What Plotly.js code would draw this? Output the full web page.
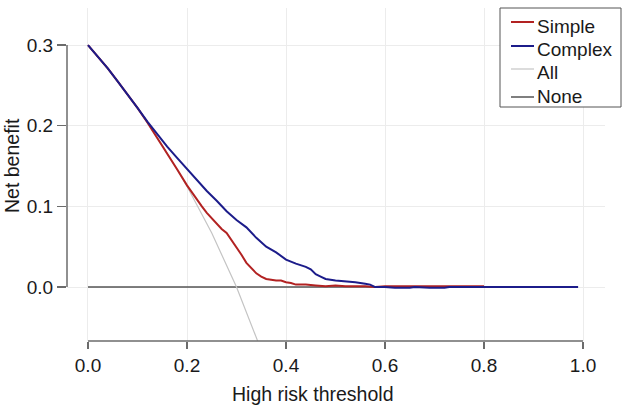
<!DOCTYPE html>
<html>
<head>
<meta charset="utf-8">
<script src="https://cdn.plot.ly/plotly-3.0.1.min.js"></script>
<style>html,body{margin:0;padding:0;background:#fff;}#chart{width:626px;height:410px;}</style>
</head>
<body>
<div id="chart"></div>
<script>
// Thresholds and net benefit values
var simpleX = [0.00,0.02,0.04,0.06,0.08,0.10,0.12,0.14,0.16,0.18,0.20,0.21,0.22,0.23,0.24,0.25,0.26,0.27,0.28,0.29,0.30,0.31,0.32,0.33,0.34,0.35,0.36,0.37,0.38,0.39,0.40,0.41,0.42,0.43,0.44,0.46,0.48,0.50,0.52,0.54,0.56,0.58,0.60,0.62,0.66,0.70,0.74,0.78,0.80];
var simpleY = [0.300,0.286,0.271,0.255,0.239,0.222,0.204,0.185,0.166,0.146,0.126,0.117,0.109,0.100,0.092,0.085,0.078,0.072,0.067,0.058,0.050,0.040,0.030,0.023,0.017,0.013,0.010,0.009,0.008,0.008,0.006,0.005,0.003,0.003,0.003,0.002,0.001,0.002,0.001,0.001,0.001,0.000,0.001,0.001,0.001,0.001,0.001,0.001,0.001];

var complexX = [0.00,0.02,0.04,0.06,0.08,0.10,0.12,0.14,0.16,0.18,0.20,0.22,0.24,0.26,0.28,0.30,0.32,0.34,0.36,0.38,0.40,0.42,0.44,0.45,0.46,0.47,0.48,0.50,0.52,0.54,0.56,0.57,0.58,0.60,0.62,0.65,0.66,0.69,0.72,0.73,0.80,0.90,0.99];
var complexY = [0.300,0.286,0.271,0.255,0.239,0.222,0.205,0.189,0.174,0.160,0.146,0.133,0.119,0.107,0.094,0.083,0.074,0.061,0.050,0.043,0.034,0.029,0.025,0.022,0.016,0.013,0.010,0.008,0.007,0.006,0.004,0.003,0.000,0.000,-0.001,-0.001,0.000,-0.001,-0.001,0.000,0.000,0.000,0.000];

var allX = [0.00,0.05,0.10,0.15,0.20,0.25,0.30,0.34,0.36];
var allY = [0.300,0.263,0.222,0.176,0.125,0.067,0.000,-0.061,-0.094];

var noneX = [0.00,0.99];
var noneY = [0.0,0.0];

var seriesNames = ["Simple","Complex","All","None"];
var seriesColors = ["#b22222","#1c1c8a","#c4c4c4","#555555"];
var xTicks = [0.0,0.2,0.4,0.6,0.8,1.0];
var xTickLabels = ["0.0","0.2","0.4","0.6","0.8","1.0"];
var yTicks = [0.0,0.1,0.2,0.3];
var yTickLabels = ["0.0","0.1","0.2","0.3"];
var xTitle = "High risk threshold";
var yTitle = "Net benefit";

var font = "Liberation Sans, Arial, Helvetica, sans-serif";
var textCol = "#1a1a1a";
var axisCol = "#6b6b6b";

// layout geometry (pixels)
var W = 626, H = 410, mL = 67, mR = 21, mT = 8, mB = 69;
var pw = W - mL - mR, ph = H - mT - mB;
function px(x) { return (x - mL) / pw; }
function py(y) { return (H - mB - y) / ph; }

var traces = [
  {x: noneX, y: noneY, name: seriesNames[3], mode: "lines", line: {color: seriesColors[3], width: 1.5}},
  {x: allX, y: allY, name: seriesNames[2], mode: "lines", line: {color: seriesColors[2], width: 1.2}},
  {x: simpleX, y: simpleY, name: seriesNames[0], mode: "lines", line: {color: seriesColors[0], width: 2}},
  {x: complexX, y: complexY, name: seriesNames[1], mode: "lines", line: {color: seriesColors[1], width: 2}}
];

// legend drawn as box + samples + text
var legendRowsText = [26, 49, 72.5, 96];
var legendRowsLine = [22, 46, 69, 97];
var widths = [2, 2, 1.2, 1.5];
var shapes = [
  {type: "line", xref: "paper", yref: "y", x0: 0, x1: 0, y0: yTicks[0], y1: yTicks[yTicks.length-1], line: {color: axisCol, width: 1.5}},
  {type: "line", xref: "x", yref: "paper", x0: xTicks[0], x1: xTicks[xTicks.length-1], y0: 0, y1: 0, line: {color: axisCol, width: 1.5}},
  {type: "rect", xref: "paper", yref: "paper", x0: px(500), x1: px(621), y0: py(107), y1: py(8), line: {color: "#555555", width: 1}, fillcolor: "#ffffff"}
];
var annotations = [
  {text: xTitle, xref: "paper", yref: "paper", x: px(312), y: py(394), xanchor: "center", yanchor: "middle", showarrow: false, font: {family: font, size: 19.5, color: textCol}},
  {text: yTitle, xref: "paper", yref: "paper", x: px(12), y: py(166), xanchor: "center", yanchor: "middle", textangle: -90, showarrow: false, font: {family: font, size: 19.5, color: textCol}}
];
for (var i = 0; i < seriesNames.length; i++) {
  shapes.push({type: "line", xref: "paper", yref: "paper", x0: px(511), x1: px(534), y0: py(legendRowsLine[i]), y1: py(legendRowsLine[i]), line: {color: seriesColors[i], width: widths[i]}});
  annotations.push({text: seriesNames[i], xref: "paper", yref: "paper", x: px(535), y: py(legendRowsText[i]), xanchor: "left", yanchor: "middle", showarrow: false, font: {family: font, size: 19, color: textCol}});
}

var layout = {
  width: W, height: H,
  margin: {l: mL, r: mR, t: mT, b: mB},
  paper_bgcolor: "#ffffff", plot_bgcolor: "#ffffff",
  font: {family: font, size: 19, color: textCol},
  showlegend: false,
  xaxis: {
    range: [-0.0424, 1.0444], tickvals: xTicks, ticktext: xTickLabels,
    showgrid: true, gridcolor: "#ececec", gridwidth: 1,
    zeroline: false, showline: false,
    ticks: "outside", ticklen: 7, tickcolor: axisCol, tickwidth: 1.5,
    tickfont: {family: font, size: 19, color: textCol}
  },
  yaxis: {
    range: [-0.0669, 0.3459], tickvals: yTicks, ticktext: yTickLabels,
    showgrid: true, gridcolor: "#ececec", gridwidth: 1,
    zeroline: false, showline: false,
    ticks: "outside", ticklen: 9, tickcolor: axisCol, tickwidth: 1.5,
    tickfont: {family: font, size: 19, color: textCol}
  },
  shapes: shapes,
  annotations: annotations
};

Plotly.newPlot("chart", traces, layout, {displayModeBar: false, staticPlot: true});
</script>
</body>
</html>
